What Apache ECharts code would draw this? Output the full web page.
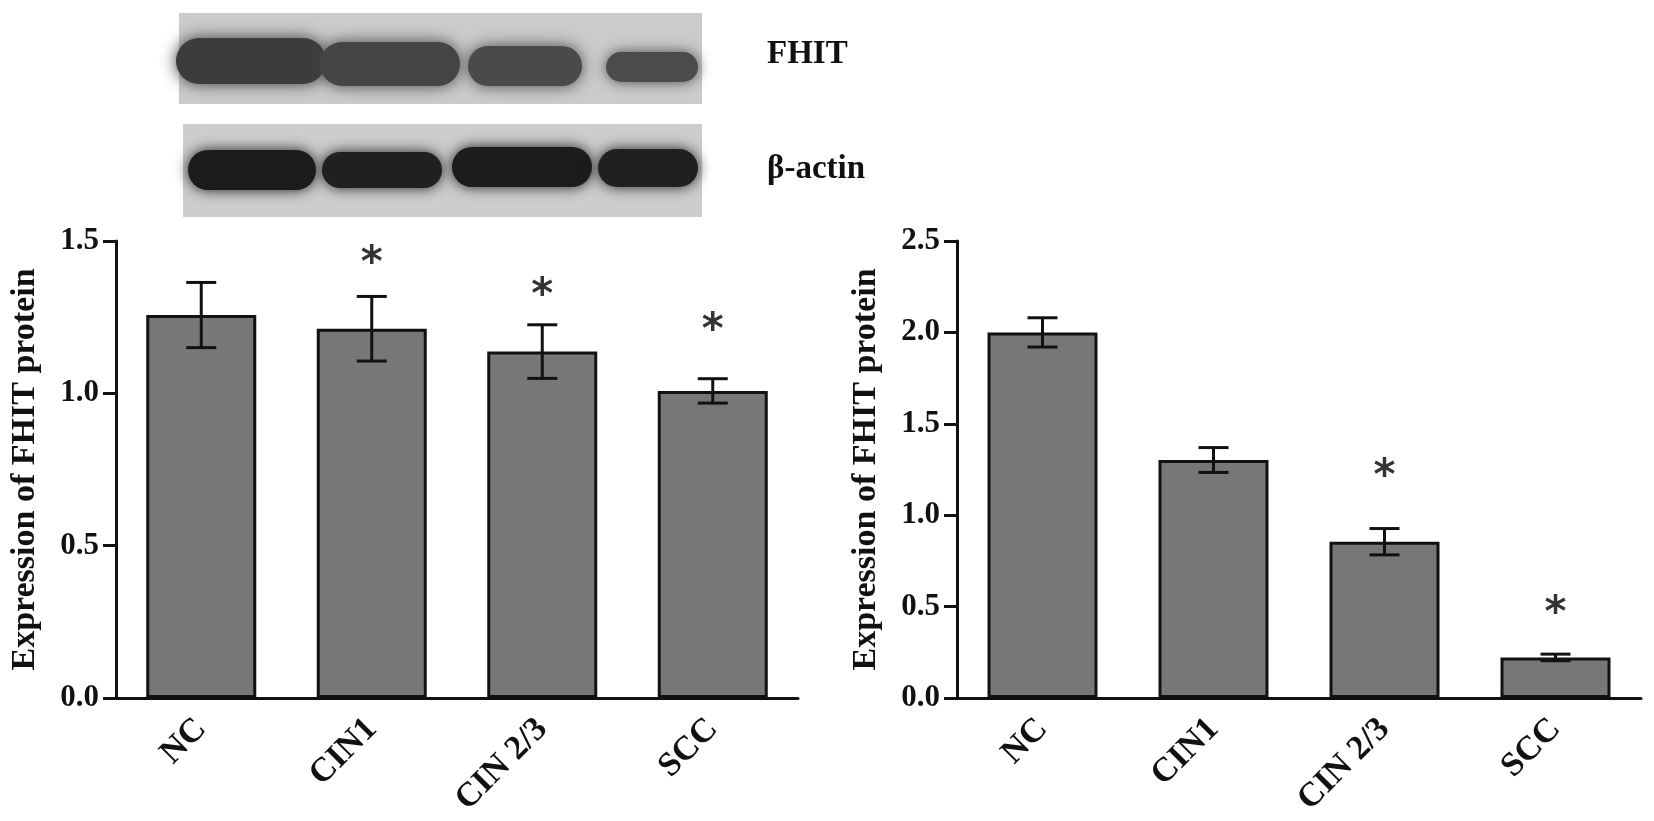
<!DOCTYPE html>
<html>
<head>
<meta charset="utf-8">
<script src="https://cdn.jsdelivr.net/npm/echarts@6/dist/echarts.min.js"></script>
<style>
  html, body { margin: 0; padding: 0; background: #fff; }
  #chart { width: 1654px; height: 821px; }
</style>
</head>
<body>
<div id="chart"></div>
<script>
// groups on the x axis
const categories = ['NC', 'CIN1', 'CIN 2/3', 'SCC'];

// left panel: FHIT protein (western blot)
const leftMean = [1.257, 1.212, 1.137, 1.008];
const leftErr = [0.107, 0.106, 0.088, 0.040];
const leftStars = [null, 1.454, 1.35, 1.235];

// right panel: FHIT protein
const rightMean = [2.00, 1.302, 0.855, 0.222];
const rightErr = [0.080, 0.068, 0.072, 0.018];
const rightStars = [null, null, 1.258, 0.506];

const ink = '#111';
const serif = 'Liberation Serif, Times New Roman, serif';

const chart = echarts.init(document.getElementById('chart'));

function errRender(params, api) {
  const i = api.value(0), m = api.value(1), e = api.value(2);
  const top = api.coord([i, m + e]);
  const bot = api.coord([i, m - e]);
  const hw = 15;
  const st = { stroke: ink, lineWidth: 3 };
  return {
    type: 'group',
    children: [
      { type: 'line', shape: { x1: top[0], y1: top[1], x2: bot[0], y2: bot[1] }, style: st },
      { type: 'line', shape: { x1: top[0] - hw, y1: top[1], x2: top[0] + hw, y2: top[1] }, style: st },
      { type: 'line', shape: { x1: bot[0] - hw, y1: bot[1], x2: bot[0] + hw, y2: bot[1] }, style: st }
    ]
  };
}

function xAxisOf(idx) {
  return {
    type: 'category',
    gridIndex: idx,
    data: categories,
    axisLine: { lineStyle: { color: ink, width: 3 } },
    axisTick: { alignWithLabel: true, length: 14, lineStyle: { color: ink, width: 3 } },
    axisLabel: {
      rotate: 45, margin: 26, color: ink,
      fontFamily: serif, fontWeight: 'bold', fontSize: 34
    }
  };
}

function yAxisOf(idx, max) {
  return {
    type: 'value',
    gridIndex: idx,
    min: 0, max: max, interval: 0.5,
    name: 'Expression of FHIT protein',
    nameLocation: 'middle',
    nameRotate: 90,
    nameGap: 74,
    nameTextStyle: { color: ink, fontFamily: serif, fontWeight: 'bold', fontSize: 34 },
    axisLine: { show: true, lineStyle: { color: ink, width: 3 } },
    axisTick: { show: true, length: 13, lineStyle: { color: ink, width: 3 } },
    splitLine: { show: false },
    axisLabel: {
      margin: 17, color: ink,
      fontFamily: serif, fontWeight: 'bold', fontSize: 31,
      formatter: v => v.toFixed(1)
    }
  };
}

function barSeries(idx, values) {
  return {
    type: 'bar',
    xAxisIndex: idx, yAxisIndex: idx,
    barWidth: 110,
    itemStyle: { color: '#777777', borderColor: ink, borderWidth: 3 },
    data: values
  };
}

function errSeries(idx, mean, err) {
  return {
    type: 'custom',
    xAxisIndex: idx, yAxisIndex: idx,
    z: 5,
    renderItem: errRender,
    data: mean.map((m, i) => [i, m, err[i]])
  };
}

function starSeries(idx, stars) {
  return {
    type: 'scatter',
    xAxisIndex: idx, yAxisIndex: idx,
    symbolSize: 1,
    itemStyle: { color: 'rgba(0,0,0,0)' },
    label: {
      show: true, position: 'inside', formatter: '*',
      color: '#000', fontFamily: 'DejaVu Sans', fontWeight: 'bold', fontSize: 42,
      offset: [0, 10]
    },
    data: stars.map((s, i) => s == null ? null : [i, s]).filter(d => d)
  };
}

// western blot strip, drawn as soft dark bands on grey panels
function band(x, y, w, h, c, blur) {
  return {
    type: 'rect',
    shape: { x: x, y: y, width: w, height: h, r: h / 2 },
    style: { fill: c, shadowBlur: blur || 14, shadowColor: c }
  };
}

const blot = [
  { type: 'rect', shape: { x: 179, y: 13, width: 523, height: 91 }, style: { fill: '#cbcbcb' } },
  band(176, 38, 150, 46, '#3c3c3c', 16),
  band(320, 42, 140, 44, '#454545', 16),
  band(468, 46, 114, 40, '#4a4a4a', 16),
  band(606, 52, 92, 30, '#4c4c4c', 14),
  { type: 'rect', shape: { x: 183, y: 124, width: 519, height: 93 }, style: { fill: '#cdcdcd' } },
  band(188, 150, 128, 40, '#1c1c1c'),
  band(322, 152, 120, 36, '#202020'),
  band(452, 147, 140, 40, '#1c1c1c'),
  band(598, 149, 100, 38, '#202020'),
  { type: 'text', left: 767, top: 38, style: { text: 'FHIT', fill: ink, font: 'bold 33px ' + serif } },
  { type: 'text', left: 767, top: 153, style: { text: 'β-actin', fill: ink, font: 'bold 33px ' + serif } }
];

const option = {
  backgroundColor: '#fff',
  animation: false,
  graphic: blot,
  grid: [
    { left: 116, top: 241, width: 682, height: 457 },
    { left: 957, top: 241, width: 684, height: 457 }
  ],
  xAxis: [xAxisOf(0), xAxisOf(1)],
  yAxis: [yAxisOf(0, 1.5), yAxisOf(1, 2.5)],
  series: [
    barSeries(0, leftMean), errSeries(0, leftMean, leftErr), starSeries(0, leftStars),
    barSeries(1, rightMean), errSeries(1, rightMean, rightErr), starSeries(1, rightStars)
  ]
};

chart.setOption(option);
window.addEventListener('resize', function () { chart.resize(); });
</script>
</body>
</html>
